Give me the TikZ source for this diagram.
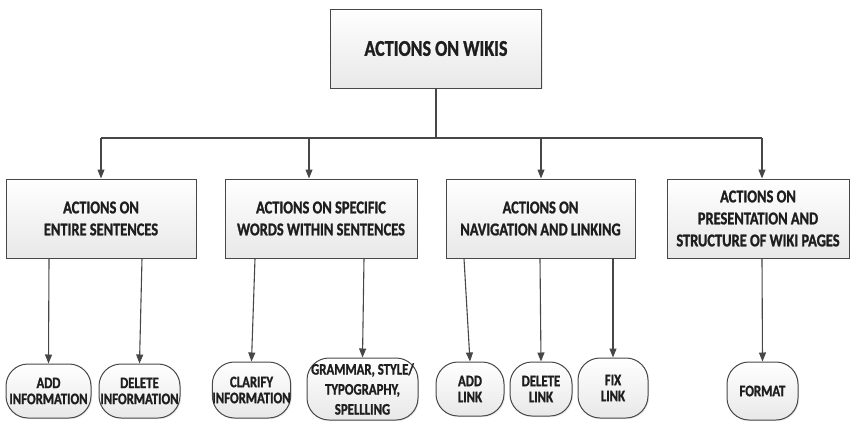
\documentclass[tikz,border=0pt]{standalone}
\usepackage{fontspec}
\setmainfont{Carlito}[FakeStretch=0.8, BoldFeatures={FakeBold=1.2}]
\usetikzlibrary{arrows.meta,shadows}
\definecolor{lineclr}{HTML}{474747}
\definecolor{boxlow}{HTML}{E8E8E8}
\definecolor{txtclr}{HTML}{1E1E1E}

\tikzset{
  panel/.style={draw=lineclr, line width=1pt, top color=white, bottom color=boxlow,
    drop shadow={opacity=0.15, shadow xshift=1.2pt, shadow yshift=-1.2pt},
    inner sep=0pt, align=center, text=txtclr, font=\bfseries},
  rootbox/.style={panel, minimum width=211pt, minimum height=79pt,
    font=\bfseries\fontsize{22.5}{24}\selectfont},
  catbox/.style={panel, minimum height=79pt,
    font=\bfseries\fontsize{18}{22}\selectfont},
  leaf/.style={panel, rounded corners=22pt,
    font=\bfseries\fontsize{16}{16}\selectfont},
  link/.style={draw=lineclr, line width=1.1pt},
  arr/.style={link, -{Triangle[length=9pt,width=7pt]}}
}

\begin{document}
\begin{tikzpicture}[x=1pt,y=-1pt]
\useasboundingbox (0,0) rectangle (852,421);

% root
\node[rootbox] (root) at (436,48.5) {ACTIONS ON WIKIS};

% categories
\node[catbox, minimum width=190pt] (c1) at (101,218.5) {ACTIONS ON\\ENTIRE SENTENCES};
\node[catbox, minimum width=192pt] (c2) at (321,218.5) {ACTIONS ON SPECIFIC\\WORDS WITHIN SENTENCES};
\node[catbox, minimum width=189pt] (c3) at (540.5,218.5) {ACTIONS ON\\NAVIGATION AND LINKING};
\node[catbox, minimum width=182pt] (c4) at (758,218.5) {ACTIONS ON\\PRESENTATION AND\\STRUCTURE OF WIKI PAGES};

% leaves
\node[leaf, minimum width=85pt, minimum height=54pt] (l1) at (48.5,391) {ADD\\INFORMATION};
\node[leaf, minimum width=81pt, minimum height=54pt] (l2) at (139.5,391) {DELETE\\INFORMATION};
\node[leaf, minimum width=77pt, minimum height=56pt] (l3) at (251.5,390) {CLARIFY\\INFORMATION};
\node[leaf, minimum width=111pt, minimum height=62pt, font=\bfseries\fontsize{16}{20}\selectfont] (l4) at (362.5,389) {GRAMMAR, STYLE/\\TYPOGRAPHY,\\SPELLLING};
\node[leaf, minimum width=68pt, minimum height=54pt] (l5) at (470,389) {ADD\\LINK};
\node[leaf, minimum width=62pt, minimum height=54pt] (l6) at (541,389) {DELETE\\LINK};
\node[leaf, minimum width=70pt, minimum height=60pt] (l7) at (613,388) {FIX\\LINK};
\node[leaf, minimum width=71pt, minimum height=58pt] (l8) at (762.5,391) {FORMAT};

% root to categories
\coordinate (bus) at (436,138);
\draw[link] (root.south) -- (bus);
\draw[link] (101,138) -- (762,138);
\draw[arr] (101,138) -- (c1.north -| 101,0);
\draw[arr] (309,138) -- (c2.north -| 309,0);
\draw[arr] (541,138) -- (c3.north -| 541,0);
\draw[arr] (762,138) -- (c4.north -| 762,0);

% categories to actions
\draw[arr] (c1.south -| 49,0) -- (l1.north);
\draw[arr] (c1.south -| 142,0) -- (l2.north);
\draw[arr] (c2.south -| 255,0) -- (l3.north);
\draw[arr] (c2.south -| 364,0) -- (l4.north);
\draw[arr] (c3.south -| 464,0) -- (l5.north);
\draw[arr] (c3.south -| 540,0) -- (l6.north);
\draw[arr] (c3.south -| 613,0) -- (l7.north);
\draw[arr] (c4.south -| 762,0) -- (l8.north);
\end{tikzpicture}
\end{document}
